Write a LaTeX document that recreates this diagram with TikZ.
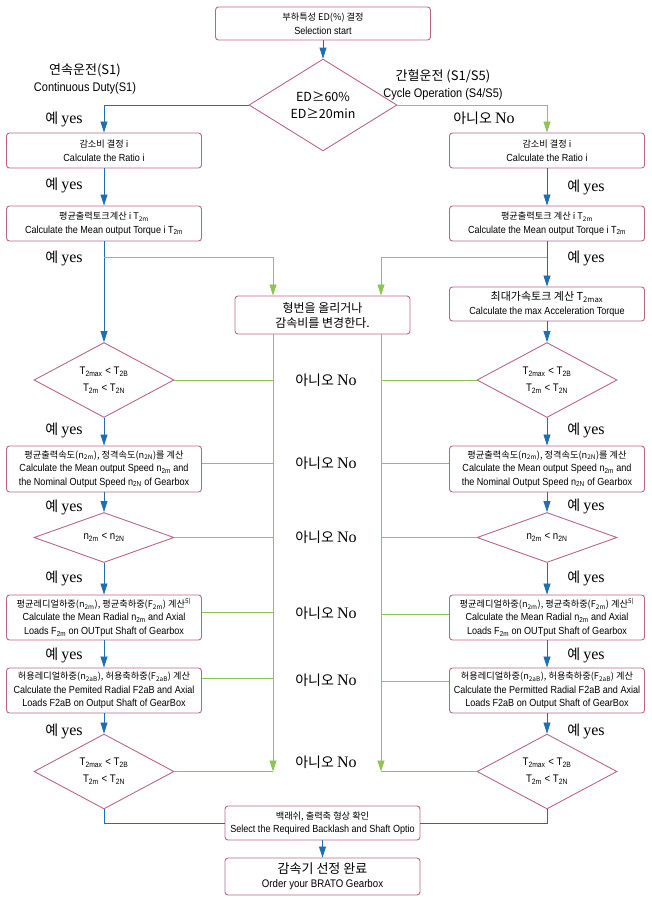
\documentclass[tikz,border=0pt]{standalone}
\usepackage{fontspec}
\setmainfont{Noto Sans CJK KR}
\newfontfamily\latinfont{Liberation Sans}[FakeStretch=0.88]
\newfontfamily\seriffont{Liberation Serif}
\usetikzlibrary{shapes.geometric,arrows.meta}
\definecolor{boxline}{RGB}{186,100,142}
\definecolor{flowblue}{RGB}{30,110,178}
\definecolor{flowgreen}{RGB}{141,196,82}
\newcommand{\subtxt}[1]{\textsubscript{#1}}
\newcommand{\eng}[1]{{\latinfont\fontsize{10.3}{13.5}\selectfont #1}}
\newcommand{\labelyes}{{\fontsize{14}{14}\selectfont 예 {\seriffont\fontsize{16}{16}\selectfont yes}}}
\newcommand{\labelno}{{\fontsize{14}{14}\selectfont 아니오 {\seriffont\fontsize{16}{16}\selectfont No}}}
\tikzset{
	stepbox/.style={draw=boxline, line width=0.9pt, rounded corners=3pt, fill=white, minimum width=195pt, align=center, inner sep=1pt, font=\fontsize{9.2}{13.5}\selectfont},
	testbox/.style={diamond, draw=boxline, line width=0.9pt, minimum width=140pt, align=center, inner sep=0pt, font=\fontsize{9}{17}\selectfont},
	yesflow/.style={draw=flowblue, line width=0.8pt},
	noflow/.style={draw=flowgreen, line width=0.8pt},
	tipb/.style={-{Triangle[length=11pt,width=7pt]}},
}

\begin{document}
\begin{tikzpicture}[x=1pt,y=-1pt]
			%%%%% START %%%%%
			\useasboundingbox (0,0) rectangle (652,906);
			
			\node[stepbox, minimum width=215pt, minimum height=33pt] (start) at (323,23.5) {부하특성 ED(\%) 결정\\\eng{Selection start}};
			\node[testbox, minimum width=148pt, minimum height=80pt, font=\fontsize{12.5}{17}\selectfont] (edtest) at (323,105) {ED≥60\%\\ED≥20min};
			
			\node[align=center, font=\fontsize{13}{17}\selectfont] (contlbl) at (85,79) {연속운전(S1)\\{\latinfont\fontsize{12.5}{17}\selectfont Continuous Duty(S1)}};
			\node[align=center, font=\fontsize{13}{17}\selectfont] (cyclelbl) at (443,85) {간헐운전 (S1/S5)\\{\latinfont\fontsize{12.5}{17}\selectfont Cycle Operation (S4/S5)}};
			
			% left column
			\node[stepbox, minimum height=35pt] (ratioL) at (104,150.5) {감소비 결정 i\\\eng{Calculate the Ratio i}};
			\node[stepbox, minimum height=35pt] (torqueL) at (104,223.5) {평균출력토크계산 i T\subtxt{2m}\\\eng{Calculate the Mean output Torque i T\subtxt{2m}}};
			\node[testbox, minimum height=72pt] (limitL) at (104,380) {\eng{\fontsize{11}{17}\selectfont T\subtxt{2max} < T\subtxt{2B}}\\\eng{\fontsize{11}{17}\selectfont T\subtxt{2m} < T\subtxt{2N}}};
			\node[stepbox, minimum height=46pt] (speedL) at (104,469) {평균출력속도(n\subtxt{2m}), 정격속도(n\subtxt{2N})를 계산\\\eng{Calculate the Mean output Speed n\subtxt{2m} and}\\\eng{the Nominal Output Speed n\subtxt{2N} of Gearbox}};
			\node[testbox, minimum height=50pt] (nL) at (104,537.5) {\eng{\fontsize{11}{17}\selectfont n\subtxt{2m} < n\subtxt{2N}}};
			\node[stepbox, minimum height=45pt] (meanL) at (104,617.5) {평균레디얼하중(n\subtxt{2m}), 평균축하중(F\subtxt{2m}) 계산\textsuperscript{5)}\\\eng{Calculate the Mean Radial n\subtxt{2m} and Axial}\\\eng{Loads F\subtxt{2m} on OUTput Shaft of Gearbox}};
			\node[stepbox, minimum height=45pt] (permL) at (104,690.5) {허용레디얼하중(n\subtxt{2aB}), 허용축하중(F\subtxt{2aB}) 계산\\\eng{Calculate the Pemited Radial F2aB and Axial}\\\eng{Loads F2aB on Output Shaft of GearBox}};
			\node[testbox, minimum height=69pt] (finalL) at (104,771.5) {\eng{\fontsize{11}{17}\selectfont T\subtxt{2max} < T\subtxt{2B}}\\\eng{\fontsize{11}{17}\selectfont T\subtxt{2m} < T\subtxt{2N}}};
			
			% right column
			\node[stepbox, minimum height=35pt] (ratioR) at (547,150.5) {감소비 결정 i\\\eng{Calculate the Ratio i}};
			\node[stepbox, minimum height=35pt] (torqueR) at (547,223.5) {평균출력토크 계산 i T\subtxt{2m}\\\eng{Calculate the Mean output Torque i T\subtxt{2m}}};
			\node[stepbox, minimum height=34pt] (accelR) at (547,304) {{\fontsize{11}{13.5}\selectfont 최대가속토크 계산 T\subtxt{2max}}\\\eng{Calculate the max Acceleration Torque}};
			\node[testbox, minimum height=72pt] (limitR) at (547,380) {\eng{\fontsize{11}{17}\selectfont T\subtxt{2max} < T\subtxt{2B}}\\\eng{\fontsize{11}{17}\selectfont T\subtxt{2m} < T\subtxt{2N}}};
			\node[stepbox, minimum height=46pt] (speedR) at (547,469) {평균출력속도(n\subtxt{2m}), 정격속도(n\subtxt{2N})를 계산\\\eng{Calculate the Mean output Speed n\subtxt{2m} and}\\\eng{the Nominal Output Speed n\subtxt{2N} of Gearbox}};
			\node[testbox, minimum height=50pt] (nR) at (547,537.5) {\eng{\fontsize{11}{17}\selectfont n\subtxt{2m} < n\subtxt{2N}}};
			\node[stepbox, minimum height=45pt] (meanR) at (547,617.5) {평균레디얼하중(n\subtxt{2m}), 평균축하중(F\subtxt{2m}) 계산\textsuperscript{5)}\\\eng{Calculate the Mean Radial n\subtxt{2m} and Axial}\\\eng{Loads F\subtxt{2m} on OUTput Shaft of Gearbox}};
			\node[stepbox, minimum height=45pt] (permR) at (547,690.5) {허용레디얼하중(n\subtxt{2aB}), 허용축하중(F\subtxt{2aB}) 계산\\\eng{Calculate the Permitted Radial F2aB and Axial}\\\eng{Loads F2aB on Output Shaft of GearBox}};
			\node[testbox, minimum height=69pt] (finalR) at (547,771.5) {\eng{\fontsize{11}{17}\selectfont T\subtxt{2max} < T\subtxt{2B}}\\\eng{\fontsize{11}{17}\selectfont T\subtxt{2m} < T\subtxt{2N}}};
			
			% middle
			\node[stepbox, minimum width=175pt, minimum height=38pt, font=\fontsize{12}{15}\selectfont] (change) at (322.5,315) {형번을 올리거나\\감속비를 변경한다.};
			\node[stepbox, minimum height=34pt] (option) at (322.5,823) {백래쉬, 출력축 형상 확인\\\eng{Select the Required Backlash and Shaft Optio}};
			\node[stepbox, minimum height=37pt] (order) at (322.5,876.5) {{\fontsize{13}{15}\selectfont 감속기 선정 완료}\\\eng{\fontsize{11}{15}\selectfont Order your BRATO Gearbox}};
			
			\coordinate (busL) at (273,257);
			\coordinate (busR) at (381,257);
			
			% yes flow
			\draw[yesflow,tipb] (start) -- (edtest);
			\draw[yesflow,tipb] (edtest.west) -| (ratioL.north);
			\draw[yesflow,tipb] (ratioL) -- (torqueL);
			\draw[yesflow,tipb] (torqueL) -- (limitL);
			\draw[yesflow,tipb] (limitL) -- (speedL);
			\draw[yesflow,tipb] (speedL) -- (nL);
			\draw[yesflow,tipb] (nL) -- (meanL);
			\draw[yesflow,tipb] (meanL) -- (permL);
			\draw[yesflow,tipb] (permL) -- (finalL);
			\draw[yesflow,tipb] (ratioR) -- (torqueR);
			\draw[yesflow,tipb] (torqueR) -- (accelR);
			\draw[yesflow,tipb] (accelR) -- (limitR);
			\draw[yesflow,tipb] (limitR) -- (speedR);
			\draw[yesflow,tipb] (speedR) -- (nR);
			\draw[yesflow,tipb] (nR) -- (meanR);
			\draw[yesflow,tipb] (meanR) -- (permR);
			\draw[yesflow,tipb] (permR) -- (finalR);
			\draw[yesflow] (finalL.south) |- (option.west);
			\draw[yesflow] (finalR.south) |- (option.east);
			\draw[yesflow,tipb] (option) -- (order);
			
			% no flow
			\draw[noflow,tipb] (edtest.east) -| (ratioR.north);
			\draw[noflow,tipb] (torqueL.south |- busL) -- (busL) -- (busL |- change.north);
			\draw[noflow,tipb] (torqueR.south |- busR) -- (busR) -- (busR |- change.north);
			\draw[noflow,tipb] (busL |- change.south) -- (busL |- finalL.east);
			\draw[noflow,tipb] (busR |- change.south) -- (busR |- finalR.west);
			\draw[noflow] (limitL.east) -- (limitL.east -| busL);
			\draw[noflow] ([yshift=6pt]speedL.east) -- ([yshift=6pt]speedL.east -| busL);
			\draw[noflow] (nL.east) -- (nL.east -| busL);
			\draw[noflow] ([yshift=5pt]meanL.east) -- ([yshift=5pt]meanL.east -| busL);
			\draw[noflow] ([yshift=12pt]permL.east) -- ([yshift=12pt]permL.east -| busL);
			\draw[noflow] (finalL.east) -- (finalL.east -| busL);
			\draw[noflow] (limitR.west) -- (limitR.west -| busR);
			\draw[noflow] ([yshift=6pt]speedR.west) -- ([yshift=6pt]speedR.west -| busR);
			\draw[noflow] (nR.west) -- (nR.west -| busR);
			\draw[noflow] ([yshift=3pt]meanR.west) -- ([yshift=3pt]meanR.west -| busR);
			\draw[noflow] ([yshift=9pt]permR.west) -- ([yshift=9pt]permR.west -| busR);
			\draw[noflow] (finalR.west) -- (finalR.west -| busR);
			
			% labels
			\node (yesL1) at (64,119) {\labelyes};
			\node (yesL2) at (64,185) {\labelyes};
			\node (yesL3) at (64,258) {\labelyes};
			\node (yesL4) at (64,430) {\labelyes};
			\node (yesL5) at (64,507) {\labelyes};
			\node (yesL6) at (64,578) {\labelyes};
			\node (yesL7) at (64,655) {\labelyes};
			\node (yesL8) at (64,731) {\labelyes};
			\node (yesR2) at (586,187) {\labelyes};
			\node (yesR3) at (586,258) {\labelyes};
			\node (yesR4) at (586,430) {\labelyes};
			\node (yesR5) at (586,506) {\labelyes};
			\node (yesR6) at (586,578) {\labelyes};
			\node (yesR7) at (586,655) {\labelyes};
			\node (yesR8) at (586,731) {\labelyes};
			\node (noR1) at (484,118) {\labelno};
			\node (noC1) at (326,380) {\labelno};
			\node (noC2) at (326,463) {\labelno};
			\node (noC3) at (326,537) {\labelno};
			\node (noC4) at (326,613) {\labelno};
			\node (noC5) at (326,680) {\labelno};
			\node (noC6) at (326,762) {\labelno};
			
			%%%%% END %%%%%
\end{tikzpicture}
\end{document}
